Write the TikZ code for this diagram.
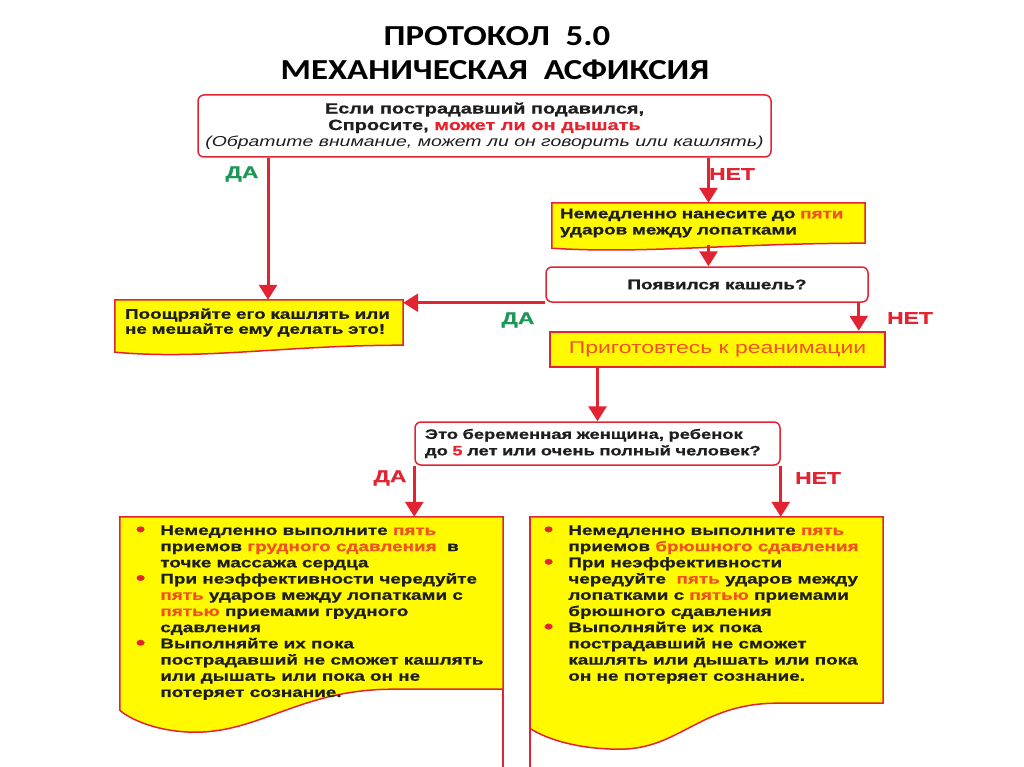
\documentclass[tikz,border=0pt]{standalone}
\usepackage{fontspec}
\setmainfont{Liberation Sans}
\newfontfamily\boxfont[FakeStretch=1.35,BoldFeatures={FakeBold=0.8}]{Liberation Sans}
\newfontfamily\titlefont[FakeStretch=1.2]{Carlito}
\usetikzlibrary{arrows.meta,calc,positioning}
\definecolor{frred}{RGB}{226,36,50}
\definecolor{hired}{RGB}{232,34,44}
\definecolor{hiorange}{RGB}{240,82,34}
\definecolor{frgreen}{RGB}{30,150,86}
\definecolor{fryellow}{RGB}{255,250,0}
\definecolor{frtext}{RGB}{30,30,30}
\newcommand{\hl}[1]{\textcolor{hiorange}{#1}}
\newcommand{\itembullet}{\llap{\raisebox{-1pt}{\textcolor{frred}{\fontsize{20}{16.2}\selectfont •}}\hspace{15pt}}}

\begin{document}
\begin{tikzpicture}[x=1pt,y=-1pt,
  txt/.style={font=\boxfont\bfseries\fontsize{14}{16.2}\selectfont,text=frtext},
  qbox/.style={draw=frred,line width=1.5pt,rounded corners=6pt,fill=white,inner sep=0pt},
  sheet/.style={draw=frred,line width=1.5pt,fill=fryellow},
  flow/.style={draw=frred,line width=3pt,-{Triangle[width=18pt,length=15pt]}},
  yes/.style={font=\boxfont\bfseries\fontsize{17}{17}\selectfont,text=frgreen},
  no/.style={font=\boxfont\bfseries\fontsize{17}{17}\selectfont,text=frred}]
\useasboundingbox (0,0) rectangle (1024,767);
\coordinate (floor) at (0,767);

% title
\node[font=\titlefont\bfseries\fontsize{29}{29}\selectfont] (title1) at (497,36) {ПРОТОКОЛ\ \ 5.0};
\node[font=\titlefont\bfseries\fontsize{29}{29}\selectfont] (title2) at (495,70) {МЕХАНИЧЕСКАЯ\ \ АСФИКСИЯ};

% first question
\node[qbox,txt,align=center,minimum width=573pt,minimum height=62pt,
  font=\boxfont\bfseries\fontsize{14.8}{16.5}\selectfont] (ask) at (484.5,126)
  {Если пострадавший подавился,\\
   Спросите, \textcolor{hired}{может ли он дышать}\\
   {\mdseries\itshape\fontsize{14.4}{16.5}\selectfont (Обратите внимание, может ли он говорить или кашлять)}};
\node[yes] (yes1) at (242,174) {ДА};
\node[no] (no1) at (732,174) {НЕТ};

% back blows
\node[minimum width=313pt,minimum height=40pt,inner sep=0pt] (hit) at (708.5,223) {};
\path[sheet] (hit.north west) -- (hit.north east) -- (hit.south east)
  .. controls +(-130,0) and +(90,6) .. ($(hit.south west)+(0,5)$) -- cycle;
\node[txt,align=left,text width=297pt,inner xsep=8pt,minimum height=40pt] at (hit)
  {Немедленно нанесите до \hl{пяти}\\ ударов между лопатками};

% cough?
\node[qbox,txt,minimum width=322pt,minimum height=35pt] (cough) at (707,284.5)
  {\hspace*{20pt}Появился кашель?};

% encourage
\node[minimum width=288pt,minimum height=45pt,inner sep=0pt] (enc) at (259,322.5) {};
\path[sheet] (enc.north west) -- (enc.north east) -- (enc.south east)
  .. controls +(-120,0) and +(90,8) .. ($(enc.south west)+(0,7)$) -- cycle;
\node[txt,align=left,text width=268pt,inner xsep=10pt,minimum height=45pt,
  font=\boxfont\bfseries\fontsize{14}{15}\selectfont] at (enc)
  {Поощряйте его кашлять или\\ не мешайте ему делать это!};

% prepare
\node[draw=frred,line width=2.5pt,fill=fryellow,minimum width=335pt,minimum height=35pt,
  font=\boxfont\fontsize{17}{17}\selectfont,text=hiorange] (prep) at (717.5,349.5)
  {Приготовтесь к реанимации};

% second question
\node[qbox,txt,align=left,text width=355pt,inner xsep=5pt,minimum height=43pt,
  font=\boxfont\bfseries\fontsize{13.6}{16.5}\selectfont] (kind) at (597.5,443.5)
  {\hspace*{5pt}Это беременная женщина, ребенок\\
   \hspace*{5pt}до \textcolor{hired}{5} лет или очень полный человек?};
\node[no] (yes2) at (390,478) {ДА};
\node[no] (no2) at (818,478) {НЕТ};

% chest thrusts
\node[minimum width=383pt,minimum height=172pt,inner sep=0pt] (chest) at (311.5,603) {};
\path[sheet] (chest.north west) -- (chest.north east) -- (chest.south east) -- +(-110,0)
  .. controls +(-93,0) and +(67,1) .. ($(chest.south west)+(73,43)$)
  .. controls +(-43,-1) and +(5,5) .. ($(chest.south west)+(0,21)$) -- cycle;
\draw[draw=frred,line width=1.5pt] (chest.south east) -- (chest.south east |- floor);
\node[txt,align=left,anchor=north west] (chesttext) at ($(chest.north west)+(37,5)$)
  {\itembullet Немедленно выполните \hl{пять}\\
   приемов \hl{грудного сдавления}\ \ в\\
   точке массажа сердца\\
   \itembullet При неэффективности чередуйте\\
   \hl{пять} ударов между лопатками с\\
   \hl{пятью} приемами грудного\\
   сдавления\\
   \itembullet Выполняйте их пока\\
   пострадавший не сможет кашлять\\
   или дышать или пока он не\\
   потеряет сознание.};

% abdominal thrusts
\node[minimum width=353pt,minimum height=186pt,inner sep=0pt] (belly) at (706.5,610) {};
\path[sheet] (belly.north west) -- (belly.north east) -- (belly.south east) -- +(-106,0)
  .. controls +(-77,0) and +(60,0) .. ($(belly.south west)+(90,46)$)
  .. controls +(-50,0) and +(10,7) .. ($(belly.south west)+(0,25)$) -- cycle;
\draw[draw=frred,line width=1.5pt] (belly.north west) -- (belly.north west |- floor);
\node[txt,align=left,anchor=north west] (bellytext) at ($(belly.north west)+(35,5)$)
  {\itembullet Немедленно выполните \hl{пять}\\
   приемов \hl{брюшного сдавления}\\
   \itembullet При неэффективности\\
   чередуйте\ \ \hl{пять} ударов между\\
   лопатками с \hl{пятью} приемами\\
   брюшного сдавления\\
   \itembullet Выполняйте их пока\\
   пострадавший не сможет\\
   кашлять или дышать или пока\\
   он не потеряет сознание.};

% connectors
\draw[flow] (ask.south -| 268,0) -- (enc.north -| 268,0);
\draw[flow] (ask.south -| hit.north) -- (hit.north);
\draw[flow] ($(hit.south)+(0,2)$) -- (hit.south |- cough.north);
\draw[flow] (cough.south west) -- (cough.south west -| enc.east);
\node[yes] (yes3) at (518,320) {ДА};
\draw[flow] ($(cough.south east)+(-10,0)$) -- ($(cough.south east |- prep.north)+(-10,0)$);
\node[no] (no3) at (910,318) {НЕТ};
\draw[flow] (kind.north |- prep.south) -- (kind.north);
\draw[flow] (kind.south west) -- (kind.south west |- chest.north);
\draw[flow] (kind.south east) -- (kind.south east |- belly.north);
\end{tikzpicture}
\end{document}
